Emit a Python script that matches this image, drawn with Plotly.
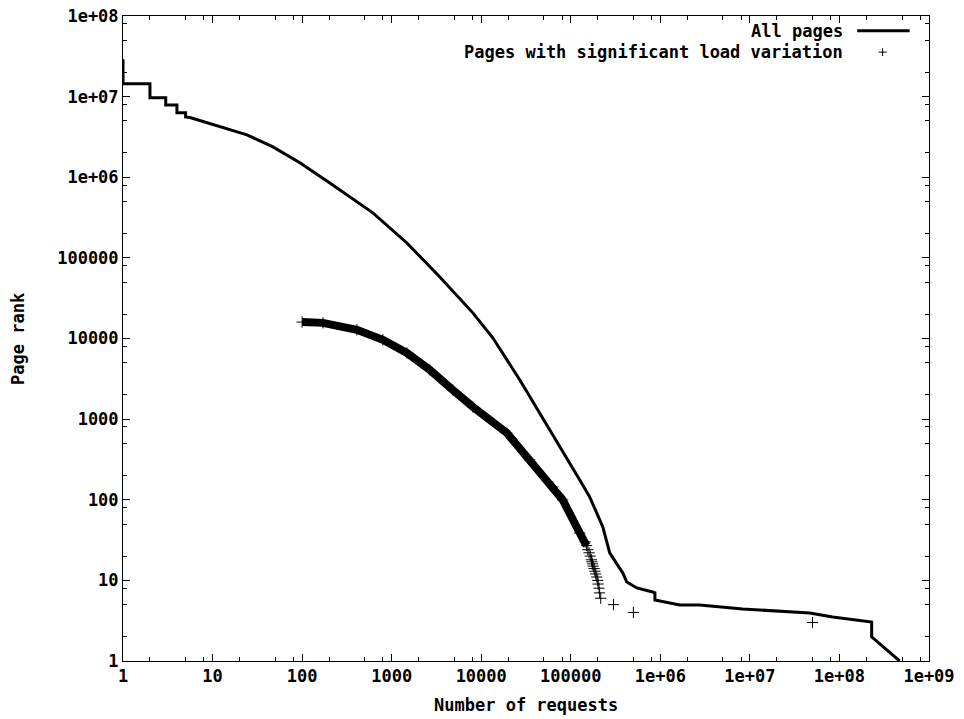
import plotly.graph_objects as go

# ---- data ----
# "All pages": rank vs number of requests (step corners included where visible)
all_requests = [1, 1, 2, 2, 3, 3, 4, 4, 5, 5, 5.6, 10.1, 15.6, 24.2, 47.2, 94.5, 204, 264, 617,
                1479, 3450, 8060, 13460, 27000, 45100, 75400, 126000, 163000, 228000,
                272000, 380000, 422000, 546000, 820000, 870000, 870000, 1650000, 2750000,
                8300000, 46500000, 84000000, 229000000, 229000000, 470000000]
all_rank = [2.9e7, 1.44e7, 1.44e7, 9.7e6, 9.7e6, 7.9e6, 7.9e6, 6.3e6, 6.3e6, 5.6e6, 5.5e6,
            4.47e6, 3.87e6, 3.36e6, 2.38e6, 1.51e6, 8.5e5, 6.98e5, 3.62e5, 1.53e5, 5.8e4, 2.08e4,
            1.02e4, 3060, 1194, 452, 176, 108, 46, 21.9, 12.4, 9.55, 8.05, 7.18, 7.0, 5.7,
            4.95, 4.95, 4.42, 3.94, 3.52, 3.05, 1.99, 1]

# "Pages with significant load variation"
sig_requests = [100, 171, 409, 798, 1480, 2670, 4820, 8060, 19300, 34800, 63000, 81400,
                126000, 145000, 150000, 155000, 160000, 165000, 170000, 172000, 175000,
                178000, 182000, 186000, 190000, 195000, 200000, 202000, 207000, 210000,
                216000, 300000, 500000, 50000000]
sig_rank = [16000, 15630, 12790, 9620, 6610, 4080, 2300, 1417, 674, 312, 144, 99.5,
            38.7, 30, 27, 24, 22, 20, 18, 17, 16, 15, 14, 13, 12, 11, 10, 9, 8, 7,
            6, 5, 4, 3]
n_dense = 15  # points forming the dense (overlapping) band

x_tick_vals = [1, 10, 100, 1000, 10000, 100000, 1e6, 1e7, 1e8, 1e9]
x_tick_text = ["1", "10", "100", "1000", "10000", "100000", "1e+06", "1e+07", "1e+08", "1e+09"]
y_tick_vals = [1, 10, 100, 1000, 10000, 100000, 1e6, 1e7, 1e8]
y_tick_text = ["1", "10", "100", "1000", "10000", "100000", "1e+06", "1e+07", "1e+08"]
minor_mantissas = [2, 5, 8]

series_names = ["All pages", "Pages with significant load variation"]
x_title = "Number of requests"
y_title = "Page rank"

FONT = "DejaVu Sans Mono"
FS = 17
TFS = 17
WEIGHT = "bold"


def all_ticks(major_vals, major_text):
    """major + minor tick positions; minor ones get empty labels"""
    vals, text = [], []
    for v, t in zip(major_vals, major_text):
        vals.append(v)
        text.append(t)
        if v != major_vals[-1]:
            for m in minor_mantissas:
                vals.append(m * v)
                text.append("")
    return vals, text


xv, xt = all_ticks(x_tick_vals, x_tick_text)
yv, yt = all_ticks(y_tick_vals, y_tick_text)

fig = go.Figure()

fig.add_trace(go.Scatter(
    x=all_requests, y=all_rank, mode="lines",
    line=dict(color="black", width=3), showlegend=False, name=series_names[0]))

fig.add_trace(go.Scatter(
    x=sig_requests[:n_dense], y=sig_rank[:n_dense], mode="lines",
    line=dict(color="black", width=8), showlegend=False, hoverinfo="skip"))

fig.add_trace(go.Scatter(
    x=sig_requests, y=sig_rank, mode="markers",
    marker=dict(symbol="cross-thin", size=8, color="black",
                line=dict(color="black", width=1)),
    showlegend=False, name=series_names[1]))

# empty trace on the overlay axes that carry the longer major ticks
fig.add_trace(go.Scatter(x=[], y=[], xaxis="x2", yaxis="y2", showlegend=False))

tickfont = dict(family=FONT, size=TFS, color="black", weight=WEIGHT)
axis_common = dict(
    type="log", tickmode="array", ticks="inside", ticklen=4, tickwidth=1,
    tickcolor="black", showline=True, linecolor="black", linewidth=1,
    mirror="allticks", showgrid=False, zeroline=False, automargin=False,
    tickfont=tickfont,
)
major_common = dict(
    type="log", tickmode="array", ticks="inside", ticklen=7, tickwidth=1,
    tickcolor="black", showline=False, mirror="ticks", showgrid=False,
    zeroline=False, automargin=False, showticklabels=False,
)

fig.update_layout(
    xaxis=dict(**axis_common, range=[0, 9], tickvals=xv, ticktext=xt),
    yaxis=dict(**axis_common, range=[0, 8], tickvals=yv, ticktext=yt),
    xaxis2=dict(**major_common, range=[0, 9], tickvals=x_tick_vals,
                overlaying="x", anchor="y2", side="bottom"),
    yaxis2=dict(**major_common, range=[0, 8], tickvals=y_tick_vals,
                overlaying="y", anchor="x2", side="left"),
    width=964, height=719,
    margin=dict(l=123, r=35, t=16, b=58),
    paper_bgcolor="white", plot_bgcolor="white",
    showlegend=False,
    font=dict(family=FONT, size=FS, color="black"),
)

txtfont = dict(family=FONT, size=FS, color="black", weight=WEIGHT)
annotations = [
    dict(text=x_title, xref="paper", yref="paper", x=0.5, y=-0.068,
         xanchor="center", yanchor="middle", showarrow=False, font=txtfont),
    dict(text=y_title, xref="paper", yref="paper", x=-0.131, y=0.5, textangle=-90,
         xanchor="center", yanchor="middle", showarrow=False, font=txtfont),
    dict(text=series_names[0], xref="paper", yref="paper", x=0.896, y=0.977,
         xanchor="right", yanchor="middle", showarrow=False, font=txtfont),
    dict(text=series_names[1], xref="paper", yref="paper", x=0.896, y=0.944,
         xanchor="right", yanchor="middle", showarrow=False, font=txtfont),
]
fig.update_layout(annotations=annotations)

# legend samples
fig.add_shape(type="line", xref="paper", yref="paper", x0=0.911, x1=0.976,
              y0=0.977, y1=0.977, line=dict(color="black", width=3))
fig.add_shape(type="line", xref="paper", yref="paper", x0=0.9375, x1=0.9475,
              y0=0.944, y1=0.944, line=dict(color="black", width=1))
fig.add_shape(type="line", xref="paper", yref="paper", x0=0.9425, x1=0.9425,
              y0=0.938, y1=0.950, line=dict(color="black", width=1))

fig.write_html("out.html")
